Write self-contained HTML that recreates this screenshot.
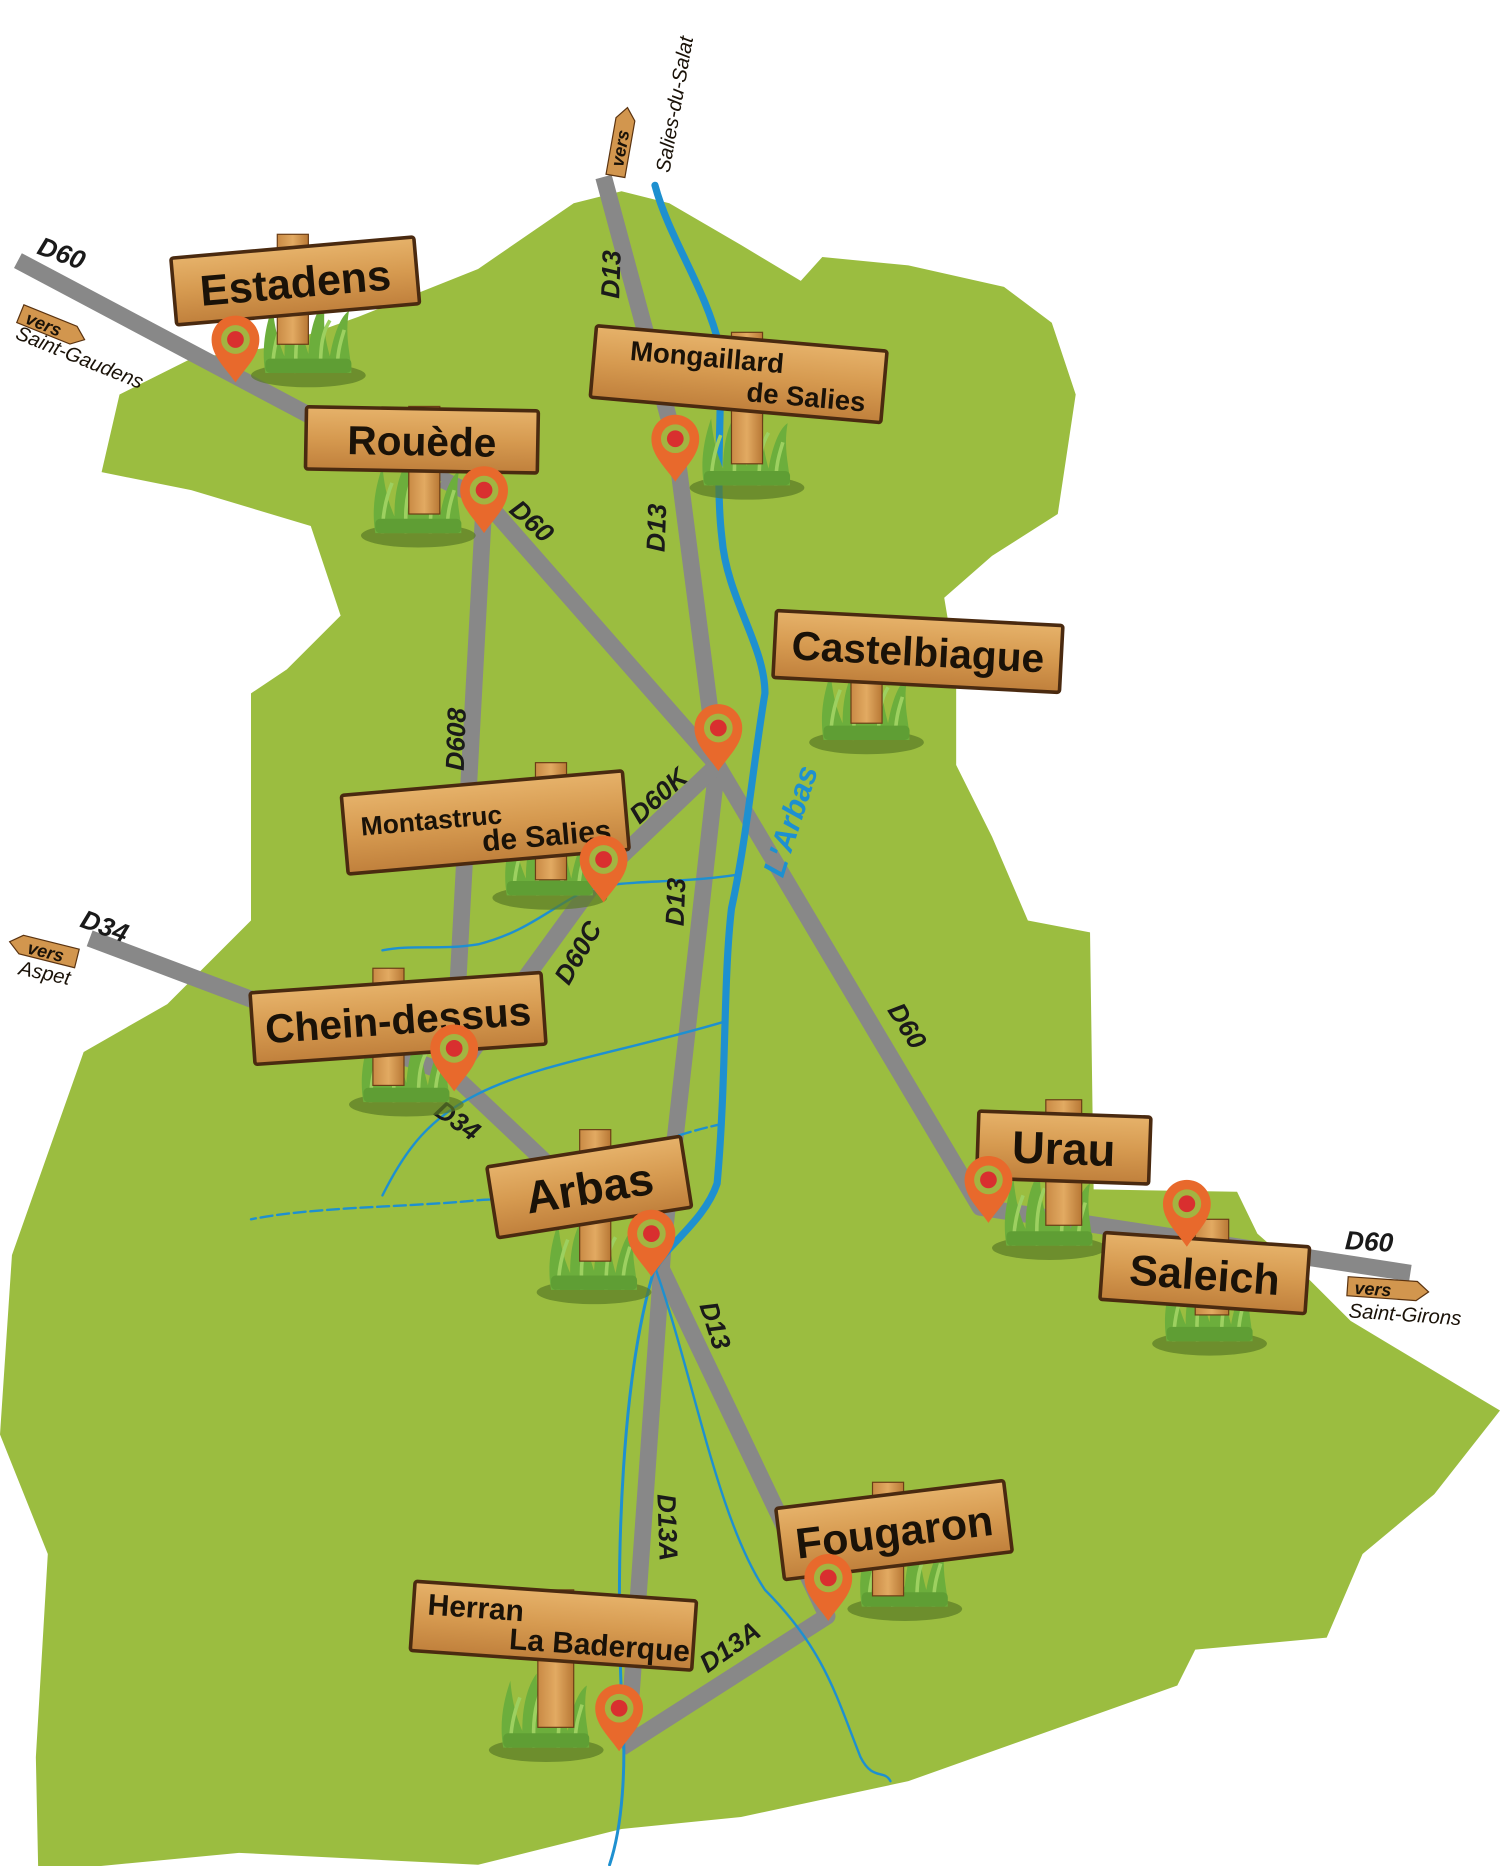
<!DOCTYPE html>
<html><head><meta charset="utf-8"><style>
html,body{margin:0;padding:0;background:#fff;}
svg{display:block;}
text{font-family:"Liberation Sans",sans-serif;font-weight:bold;fill:#1a1208;}
.rl{font-size:22px;fill:#1a1a1a;font-style:italic;}
</style></head><body>
<svg width="1500" height="1866" viewBox="0 0 1255 1561" preserveAspectRatio="none" xmlns="http://www.w3.org/2000/svg">
<defs>
<linearGradient id="wood" x1="0" y1="0" x2="0" y2="1">
<stop offset="0" stop-color="#e6b26a"/><stop offset="0.5" stop-color="#d69a50"/><stop offset="1" stop-color="#c0803c"/>
</linearGradient>
<linearGradient id="post" x1="0" y1="0" x2="1" y2="0">
<stop offset="0" stop-color="#c98a45"/><stop offset="0.5" stop-color="#e2aa62"/><stop offset="1" stop-color="#b87835"/>
</linearGradient>
<g id="pin">
<path d="M0,28 C-8,16 -20,6 -20,-8 A20,20 0 1 1 20,-8 C20,6 8,16 0,28Z" fill="#e8692c"/>
<circle cx="0" cy="-8" r="12" fill="#9bbd44" opacity="0.9"/>
<circle cx="0" cy="-8" r="7" fill="#d92f2f"/>
</g>
<g id="grass">
<ellipse cx="0" cy="6" rx="48" ry="10" fill="#5a7a25" opacity="0.7"/>
<path d="M-36,4 C-40,-20 -34,-40 -30,-52 C-28,-30 -24,-20 -20,-10 C-20,-35 -14,-50 -8,-58 C-8,-35 -4,-25 0,-12 C2,-38 8,-50 14,-56 C12,-35 14,-25 18,-10 C22,-32 28,-44 34,-48 C30,-25 36,-10 36,4 Z" fill="#6cae3c"/>
<path d="M-30,4 C-30,-15 -26,-28 -22,-38 M-10,4 C-12,-20 -8,-35 -4,-44 M10,4 C10,-20 12,-30 18,-40 M24,4 C24,-15 28,-25 30,-32" stroke="#9dd060" stroke-width="3" fill="none"/>
<rect x="-36" y="-8" width="72" height="12" rx="4" fill="#5f9e34"/>
</g>
</defs>

<path d="M85,395 L100,330 L160,300 L230,290 L300,265 L400,225 L480,170 L520,160 L560,170 L620,205 L670,235 L688,215 L760,222 L840,240 L880,270 L900,330 L885,430 L830,465 L790,500 L800,560 L800,640 L830,700 L860,770 L912,780 L915,995 L1035,997 L1052,1032 L1095,1070 L1130,1105 L1255,1180 L1200,1250 L1140,1300 L1110,1370 L1000,1380 L985,1410 L760,1490 L620,1520 L520,1530 L400,1560 L200,1550 L32,1566 L30,1470 L40,1300 L0,1200 L10,1050 L70,880 L140,840 L210,770 L210,580 L240,560 L285,515 L260,440 L160,410 Z" fill="#9bbd40"/>

<g stroke="#888" stroke-width="14" fill="none" stroke-linejoin="round">
<polyline points="15,218 260,348 405,418 600,640 820,1010 1180,1065"/>
<polyline points="505,148 565,370 600,640 555,1040 525,1462"/>
<polyline points="548,1050 692,1352 520,1462"/>
<polyline points="405,420 380,880"/>
<polyline points="600,640 500,735 380,900"/>
<polyline points="75,785 380,900 470,985"/>
</g>

<g fill="none" stroke="#1e90d0" stroke-linecap="round">
<path d="M548,155 C560,200 590,240 602,290 C605,340 598,400 604,450 C608,500 640,540 640,580 C630,640 625,700 612,760 C605,820 608,900 600,990 C590,1020 560,1040 548,1060" stroke-width="6"/>
<path d="M548,1060 C520,1150 515,1300 520,1420 C525,1480 520,1530 510,1560" stroke-width="2.5"/>
<path d="M548,1060 C580,1150 600,1270 640,1330 C690,1380 700,1420 720,1470 C730,1490 740,1480 745,1490" stroke-width="2"/>
<path d="M615,732 C560,740 520,735 490,745 C460,760 440,780 400,790 C370,795 345,790 320,795" stroke-width="2"/>
<path d="M605,855 C520,880 450,890 400,915 C360,935 340,960 320,1000" stroke-width="2"/>
<path d="M605,940 C560,950 520,965 500,985 C470,1010 430,1000 390,1005 C330,1010 260,1010 210,1020" stroke-width="2" stroke-dasharray="10 4"/>
</g>

<text class="rl" font-size="24" transform="translate(30,212) rotate(20)">D60</text>
<text class="rl" font-size="22" transform="translate(425,428) rotate(42)">D60</text>
<text class="rl" font-size="22" transform="translate(518,250) rotate(-88)">D13</text>
<text class="rl" font-size="22" transform="translate(556,462) rotate(-88)">D13</text>
<text class="rl" font-size="22" transform="translate(388,645) rotate(-88)">D608</text>
<text class="rl" font-size="22" transform="translate(535,690) rotate(-42)">D60K</text>
<text class="rl" font-size="22" transform="translate(476,825) rotate(-60)">D60C</text>
<text class="rl" font-size="22" transform="translate(572,775) rotate(-88)">D13</text>
<text class="rl" font-size="24" transform="translate(66,775) rotate(20)">D34</text>
<text class="rl" font-size="22" transform="translate(362,932) rotate(35)">D34</text>
<text class="rl" font-size="22" transform="translate(742,845) rotate(58)">D60</text>
<text class="rl" font-size="22" transform="translate(585,1092) rotate(72)">D13</text>
<text class="rl" font-size="22" transform="translate(550,1250) rotate(88)">D13A</text>
<text class="rl" font-size="22" transform="translate(592,1400) rotate(-35)">D13A</text>
<text class="rl" font-size="24" transform="translate(1125,1045) rotate(3)">D60</text>
<text font-size="26" style="fill:#1e90d0;font-style:italic" transform="translate(655,735) rotate(-72)">L'Arbas</text>

<g transform="translate(20,255) rotate(22)"><path d="M0,0 L48,0 L58,8 L48,16 L0,16 Z" fill="#d2964e" stroke="#5a3310" stroke-width="1"/><text x="6" y="14" font-size="15" style="font-style:italic">vers</text></g>
<text font-size="17" style="font-weight:normal;font-style:italic" transform="translate(12,283) rotate(22)">Saint-Gaudens</text>
<g transform="translate(525,90) rotate(-80)"><path d="M0,0 L48,0 L58,8 L48,16 L0,16 Z" transform="translate(-58,-8)" fill="#d2964e" stroke="#5a3310"/><text x="-50" y="5" font-size="15" style="font-style:italic">vers</text></g>
<text font-size="17" style="font-weight:normal;font-style:italic" transform="translate(560,145) rotate(-80)">Salies-du-Salat</text>
<g transform="translate(10,780) rotate(14)"><path d="M10,0 L58,0 L58,16 L10,16 L0,8 Z" fill="#d2964e" stroke="#5a3310"/><text x="16" y="14" font-size="15" style="font-style:italic">vers</text></g>
<text font-size="17" style="font-weight:normal;font-style:italic" transform="translate(15,815) rotate(12)">Aspet</text>
<g transform="translate(1128,1068) rotate(4)"><path d="M0,0 L58,0 L68,8 L58,16 L0,16 Z" fill="#d2964e" stroke="#5a3310"/><text x="6" y="14" font-size="15" style="font-style:italic">vers</text></g>
<text font-size="17" style="font-weight:normal;font-style:italic" transform="translate(1128,1102) rotate(4)">Saint-Girons</text>

<use href="#grass" x="258" y="308"/>
<use href="#grass" x="350" y="442"/>
<use href="#grass" x="625" y="402"/>
<use href="#grass" x="725" y="615"/>
<use href="#grass" x="460" y="745"/>
<use href="#grass" x="340" y="918"/>
<use href="#grass" x="497" y="1075"/>
<use href="#grass" x="878" y="1038"/>
<use href="#grass" x="1012" y="1118"/>
<use href="#grass" x="757" y="1340"/>
<use href="#grass" x="457" y="1458"/>

<g fill="url(#post)" stroke="#6b3e16" stroke-width="1">
<rect x="232" y="196" width="26" height="92"/>
<rect x="342" y="340" width="26" height="90"/>
<rect x="612" y="278" width="26" height="110"/>
<rect x="712" y="515" width="26" height="90"/>
<rect x="448" y="638" width="26" height="98"/>
<rect x="312" y="810" width="26" height="98"/>
<rect x="485" y="945" width="26" height="110"/>
<rect x="875" y="920" width="30" height="105"/>
<rect x="1000" y="1020" width="28" height="80"/>
<rect x="730" y="1240" width="26" height="95"/>
<rect x="450" y="1330" width="30" height="115"/>
</g>

<g stroke="#4a2a10" stroke-width="3" fill="url(#wood)">
<g transform="translate(247,235) rotate(-5)"><rect x="-102" y="-28" width="204" height="56" rx="2"/><text x="0" y="14" font-size="36" text-anchor="middle" stroke="none">Estadens</text></g>
<g transform="translate(353,368) rotate(1)"><rect x="-97" y="-26" width="194" height="52" rx="2"/><text x="0" y="13" font-size="34" text-anchor="middle" stroke="none">Rouède</text></g>
<g transform="translate(618,313) rotate(5)"><rect x="-122" y="-30" width="244" height="60" rx="2"/><text x="-92" y="-4" font-size="23" stroke="none">Mongaillard</text><text x="8" y="22" font-size="23" stroke="none">de Salies</text></g>
<g transform="translate(768,545) rotate(3)"><rect x="-120" y="-28" width="240" height="56" rx="2"/><text x="0" y="12" font-size="34" text-anchor="middle" stroke="none">Castelbiague</text></g>
<g transform="translate(406,688) rotate(-5)"><rect x="-118" y="-33" width="236" height="66" rx="2"/><text x="-104" y="2" font-size="22" stroke="none">Montastruc</text><text x="-4" y="24" font-size="25" stroke="none">de Salies</text></g>
<g transform="translate(333,852) rotate(-4)"><rect x="-122" y="-30" width="244" height="60" rx="2"/><text x="0" y="13" font-size="34" text-anchor="middle" stroke="none">Chein-dessus</text></g>
<g transform="translate(493,993) rotate(-9)"><rect x="-82" y="-30" width="164" height="60" rx="2"/><text x="0" y="14" font-size="38" text-anchor="middle" stroke="none">Arbas</text></g>
<g transform="translate(890,960) rotate(2)"><rect x="-72" y="-28" width="144" height="56" rx="2"/><text x="0" y="14" font-size="38" text-anchor="middle" stroke="none">Urau</text></g>
<g transform="translate(1008,1065) rotate(4)"><rect x="-86" y="-28" width="172" height="56" rx="2"/><text x="0" y="14" font-size="36" text-anchor="middle" stroke="none">Saleich</text></g>
<g transform="translate(748,1280) rotate(-7)"><rect x="-96" y="-30" width="192" height="60" rx="2"/><text x="0" y="14" font-size="36" text-anchor="middle" stroke="none">Fougaron</text></g>
<g transform="translate(463,1360) rotate(4)"><rect x="-118" y="-29" width="236" height="58" rx="2"/><text x="-106" y="-2" font-size="25" stroke="none">Herran</text><text x="-36" y="22" font-size="25" stroke="none">La Baderque</text></g>
</g>

<use href="#pin" x="197" y="292"/>
<use href="#pin" x="405" y="418"/>
<use href="#pin" x="565" y="375"/>
<use href="#pin" x="601" y="617"/>
<use href="#pin" x="505" y="727"/>
<use href="#pin" x="380" y="885"/>
<use href="#pin" x="545" y="1040"/>
<use href="#pin" x="827" y="995"/>
<use href="#pin" x="993" y="1015"/>
<use href="#pin" x="693" y="1328"/>
<use href="#pin" x="518" y="1437"/>
</svg>
</body></html>
